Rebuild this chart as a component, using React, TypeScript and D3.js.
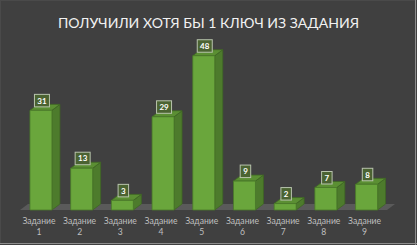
import React from "react";
import * as d3 from "d3";

const categories = ["1", "2", "3", "4", "5", "6", "7", "8", "9"];
const values = [31, 13, 3, 29, 48, 9, 2, 7, 8];
const categoryPrefix = "Задание";
const title = "ПОЛУЧИЛИ ХОТЯ БЫ 1 КЛЮЧ ИЗ ЗАДАНИЯ";

const W = 417;
const H = 245;

export default function App() {
  const x = d3
    .scaleBand<string>()
    .domain(categories)
    .range([20.6, 386.9])
    .paddingInner(0.46)
    .paddingOuter(0.23);
  const y = d3.scaleLinear().domain([0, 50]).range([210, 49.3]);
  const dx = 8;
  const dy = -6;
  const base = y(0);
  const bw = x.bandwidth();

  const floorPts = [
    [20, base],
    [387, base],
    [387 + dx, base + dy],
    [20 + dx, base + dy],
  ];

  return (
    <svg
      width={W}
      height={H}
      style={{ position: "absolute", left: 0, top: 0 }}
      fontFamily="Lato, 'Liberation Sans', sans-serif"
    >
      <rect x={0} y={0} width={W} height={H} fill="#404040" />
      <rect x={0.5} y={0.5} width={W - 2} height={H - 2} fill="none" stroke="#4a4a4a" />
      <line x1={W - 1.5} y1={0} x2={W - 1.5} y2={H} stroke="#8c8c8c" />
      <line x1={0} y1={H - 1.5} x2={W} y2={H - 1.5} stroke="#8c8c8c" />
      <text
        x={208.5}
        y={27.5}
        textAnchor="middle"
        fill="#f2f2f2"
        fontSize={14}
        textLength={301}
        lengthAdjust="spacingAndGlyphs"
      >
        {title}
      </text>
      <polygon
        points={floorPts.map((p) => p.join(",")).join(" ")}
        fill="#5a5a5a"
      />
      {categories.map((c, i) => {
        const x0 = x(c)!;
        const x1 = x0 + bw;
        const yt = y(values[i]);
        const front = `M${x0},${base}L${x0},${yt}L${x1},${yt}L${x1},${base}Z`;
        const side = `M${x1},${base}L${x1},${yt}L${x1 + dx},${yt + dy}L${x1 + dx},${base + dy}Z`;
        const top = `M${x0},${yt}L${x0 + dx},${yt + dy}L${x1 + dx},${yt + dy}L${x1},${yt}Z`;
        const label = String(values[i]);
        const boxW = label.length > 1 ? 15 : 10.5;
        const boxH = 12.5;
        const cx = x0 + bw / 2 + 1;
        const by = yt - 3.5 - boxH;
        return (
          <g key={c}>
            <path d={side} fill="#4d7b2c" stroke="#3f6624" strokeWidth={0.8} />
            <path d={top} fill="#5b8f33" stroke="#3f6624" strokeWidth={0.8} />
            <path d={front} fill="#6aa63c" stroke="#4a7a2a" strokeWidth={0.8} />
            <rect
              x={cx - boxW / 2}
              y={by}
              width={boxW}
              height={boxH}
              fill="#4b6332"
              stroke="#b8c4ad"
              strokeWidth={1}
            />
            <text
              x={cx}
              y={by + boxH / 2 + 3}
              textAnchor="middle"
              fill="#ffffff"
              fontSize={8}
              fontWeight="bold"
            >
              {label}
            </text>
            <text
              x={x0 + bw / 2 - 2}
              y={224}
              textAnchor="middle"
              fill="#bfbfbf"
              fontSize={8.6}
            >
              {categoryPrefix}
            </text>
            <text
              x={x0 + bw / 2 - 2}
              y={235}
              textAnchor="middle"
              fill="#bfbfbf"
              fontSize={8.6}
            >
              {c}
            </text>
          </g>
        );
      })}
    </svg>
  );
}
